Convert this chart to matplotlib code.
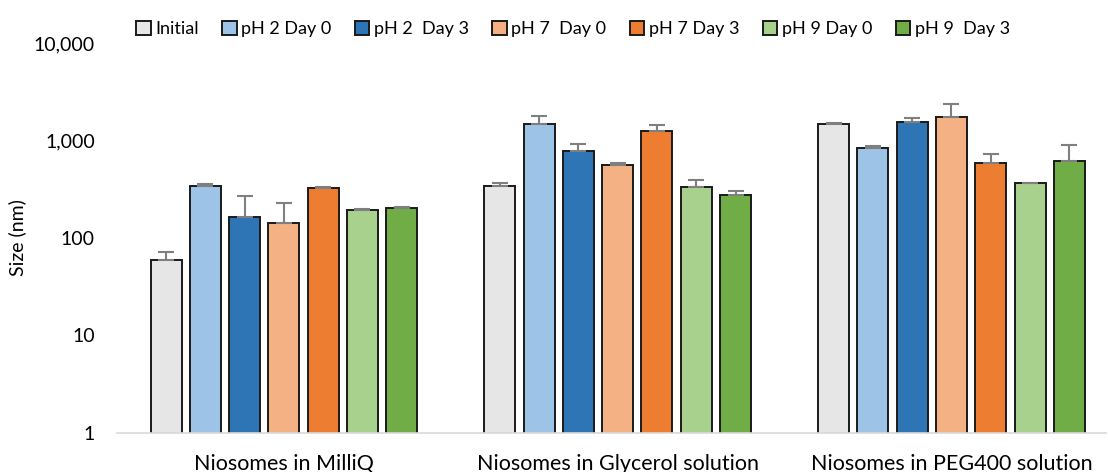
import matplotlib.pyplot as plt
import matplotlib.ticker as mticker
import numpy as np

plt.rcParams['font.family'] = ['Lato', 'DejaVu Sans']

groups = ['Niosomes in MilliQ', 'Niosomes in Glycerol solution', 'Niosomes in PEG400 solution']
series = ['Initial', 'pH 2 Day 0', 'pH 2  Day 3', 'pH 7  Day 0', 'pH 7 Day 3', 'pH 9 Day 0', 'pH 9  Day 3']
colors = ['#E7E6E6', '#9DC3E6', '#2E75B6', '#F4B183', '#ED7D31', '#A9D18E', '#70AD47']

# size (nm) per series, one value per group
initial = [60, 343, 1490]
ph2_d0 = [340, 1490, 832]
ph2_d3 = [164, 788, 1550]
ph7_d0 = [144, 557, 1727]
ph7_d3 = [327, 1242, 594]
ph9_d0 = [196, 332, 365]
ph9_d3 = [204, 273, 618]

# upper error (nm)
err_initial = [12, 22, 10]
err_ph2_d0 = [14, 280, 41]
err_ph2_d3 = [104, 135, 153]
err_ph7_d0 = [84, 33, 620]
err_ph7_d3 = [5, 190, 128]
err_ph9_d0 = [2, 63, 3]
err_ph9_d3 = [2, 34, 283]

values = [initial, ph2_d0, ph2_d3, ph7_d0, ph7_d3, ph9_d0, ph9_d3]
errors = [err_initial, err_ph2_d0, err_ph2_d3, err_ph7_d0, err_ph7_d3, err_ph9_d0, err_ph9_d3]

fig = plt.figure(figsize=(11.08, 4.72), dpi=100)
ax = fig.add_axes([117/1108, 1 - 433/472, (1106 - 117)/1108, (433 - 43)/472])

x = np.arange(len(groups))
pitch = 0.1177
width = 0.093
for i, (name, vals, errs, c) in enumerate(zip(series, values, errors, colors)):
    pos = x + (i - 3) * pitch
    ax.bar(pos, vals, width, color=c, edgecolor='#1a1a1a', linewidth=1.4, label=name, zorder=2)
    ax.errorbar(pos, vals, yerr=[np.zeros(len(errs)), errs], fmt='none',
                ecolor='#7f7f7f', elinewidth=1.5, capsize=6, capthick=1.5, zorder=3)

ax.set_yscale('log')
ax.set_ylim(1, 10000)
ax.set_xlim(-0.5, 2.463)
ax.yaxis.set_major_formatter(mticker.FuncFormatter(lambda v, p: f'{int(v):,}'))
ax.yaxis.set_minor_locator(mticker.NullLocator())
ax.set_xticks(x)
ax.set_xticklabels(groups, fontsize=15.5, color='#000000')
ax.tick_params(axis='x', length=0, pad=15)
ax.tick_params(axis='y', length=0, labelsize=14, pad=16)
for s in ['top', 'right', 'left']:
    ax.spines[s].set_visible(False)
ax.spines['bottom'].set_color('#d9d9d9')
ax.spines['bottom'].set_linewidth(1.2)
ax.set_ylabel('Size (nm)', fontsize=14)
ax.yaxis.set_label_coords(-0.092, 0.5)

fig.legend(loc='upper center', bbox_to_anchor=(573/1108, 0.99), ncol=7, frameon=False,
           fontsize=13, handlelength=0.8, handleheight=0.8, handletextpad=0.25, columnspacing=1.3)

fig.savefig('out.png', dpi=100)
